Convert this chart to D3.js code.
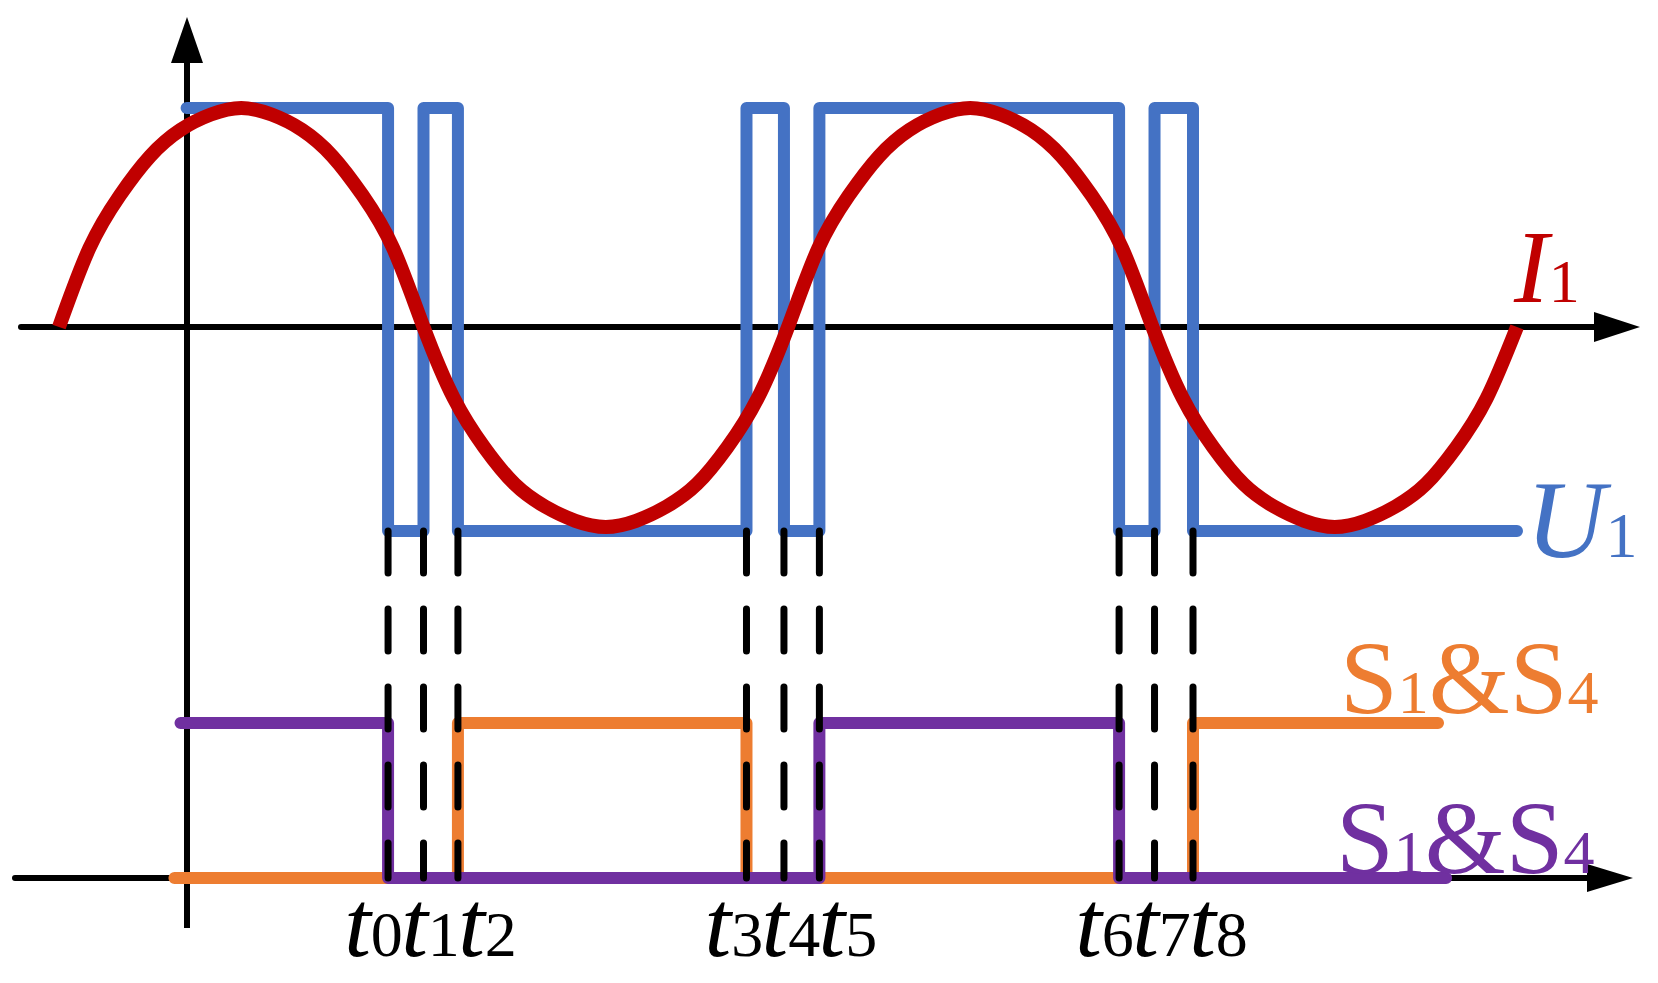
<!DOCTYPE html>
<html>
<head>
<meta charset="utf-8">
<script src="https://cdnjs.cloudflare.com/ajax/libs/d3/7.8.5/d3.min.js"></script>
<style>
  body { margin: 0; background: #fff; }
</style>
</head>
<body>
<div id="wrapper"></div>
<script>
// switching instants t0..t8 (degrees of the current period)
const switchTimes = [162.5, 180, 197, 339.5, 358, 375.5, 523.5, 541, 560];
const tickLabels = ["t0", "t1", "t2", "t3", "t4", "t5", "t6", "t7", "t8"];

// current I1, read every 15 degrees
const currentDeg = [0, 15, 30, 45, 60, 75, 90, 105, 120, 135, 150, 165, 180,
    195, 210, 225, 240, 255, 270, 285, 300, 315, 330, 345, 360,
    375, 390, 405, 420, 435, 450, 465, 480, 495, 510, 525, 540,
    555, 570, 585, 600, 615, 630, 645, 660, 675, 690, 705, 720];
const currentVal = [0, 0.36, 0.6, 0.78, 0.9, 0.97, 1, 0.97, 0.9, 0.78, 0.6, 0.36, 0,
    -0.35, -0.59, -0.77, -0.88, -0.95, -0.98, -0.95, -0.88, -0.77, -0.59, -0.35, 0,
    0.36, 0.6, 0.78, 0.9, 0.97, 1, 0.97, 0.9, 0.78, 0.6, 0.36, 0,
    -0.35, -0.59, -0.77, -0.88, -0.95, -0.98, -0.95, -0.88, -0.77, -0.59, -0.35, 0];

// voltage U1 (square wave)
const voltageStart = 63;
const voltageEnd = 720;
const voltageEdges = [162.5, 180, 197, 339.5, 358, 375.5, 523.5, 541, 560];
const voltageLevels = [1, -1, 1, -1, 1, -1, 1, -1, 1, -1];

// gate signals
const orangeStart = 57, orangeEnd = 681;
const orangeEdges = [197, 339.5, 560];
const orangeLevels = [0, 1, 0, 1];
const purpleStart = 60, purpleEnd = 685;
const purpleEdges = [162.5, 375.5, 523.5];
const purpleLevels = [1, 0, 1, 0];

const labelI = ["I", "1"];
const labelU = ["U", "1"];
const labelS = ["S", "1", "&", "S", "4"];

function buildPlot() {
    const dimension = {
        width: 1658,
        height: 983,
        margin: { left: 59, right: 141 }
    };

    const colors = {
        red: "#C00000",
        blue: "#4472C4",
        orange: "#ED7D31",
        purple: "#7030A0"
    };

    const svg = d3.select("#wrapper").append("svg")
        .attr("width", dimension.width)
        .attr("height", dimension.height);

    const xScale = d3.scaleLinear()
        .domain([0, 720])
        .range([dimension.margin.left, dimension.width - dimension.margin.right]);
    const yWave = d3.scaleLinear()
        .domain([-1, 0, 1])
        .range([531, 327, 108]);
    const ySwitch = d3.scaleLinear()
        .domain([0, 1])
        .range([878, 723]);

    // step points for curveStepAfter
    const steps = (start, end, edges, levels) => {
        const pts = [{ t: start, v: levels[0] }];
        edges.forEach((e, i) => pts.push({ t: e, v: levels[i + 1] }));
        pts.push({ t: end, v: levels[levels.length - 1] });
        return pts;
    };

    // ---- axes ----
    const axisX = 187;
    const axes = svg.append("g").attr("stroke", "black").attr("stroke-width", 6);
    axes.append("line")
        .attr("x1", axisX).attr("x2", axisX)
        .attr("y1", 928).attr("y2", 60);
    axes.append("line")
        .attr("x1", 21).attr("x2", 1598)
        .attr("y1", yWave(0)).attr("y2", yWave(0))
        .attr("stroke-linecap", "round");
    axes.append("line")
        .attr("x1", 15).attr("x2", 1590)
        .attr("y1", ySwitch(0)).attr("y2", ySwitch(0))
        .attr("stroke-linecap", "round");

    const arrow = d3.line();
    svg.append("path")
        .attr("d", arrow([[axisX, 17], [axisX - 16, 63], [axisX + 16, 63]]) + "Z")
        .attr("fill", "black");
    svg.append("path")
        .attr("d", arrow([[1640, yWave(0)], [1594, yWave(0) - 15], [1594, yWave(0) + 15]]) + "Z")
        .attr("fill", "black");
    svg.append("path")
        .attr("d", arrow([[1633, ySwitch(0)], [1587, ySwitch(0) - 14], [1587, ySwitch(0) + 14]]) + "Z")
        .attr("fill", "black");

    // ---- voltage U1 ----
    const stepLine = (yS) => d3.line()
        .x(d => xScale(d.t))
        .y(d => yS(d.v))
        .curve(d3.curveStepAfter);

    svg.append("path")
        .attr("d", stepLine(yWave)(steps(voltageStart, voltageEnd, voltageEdges, voltageLevels)))
        .attr("fill", "none")
        .attr("stroke", colors.blue)
        .attr("stroke-width", 12)
        .attr("stroke-linejoin", "round")
        .attr("stroke-linecap", "round");

    // ---- current I1 ----
    const currentData = currentDeg.map((t, i) => ({ t: t, v: currentVal[i] }));
    const currentLine = d3.line()
        .x(d => xScale(d.t))
        .y(d => yWave(d.v))
        .curve(d3.curveNatural);
    svg.append("path")
        .attr("d", currentLine(currentData))
        .attr("fill", "none")
        .attr("stroke", colors.red)
        .attr("stroke-width", 14);

    // ---- gate signals ----
    svg.append("path")
        .attr("d", stepLine(ySwitch)(steps(orangeStart, orangeEnd, orangeEdges, orangeLevels)))
        .attr("fill", "none")
        .attr("stroke", colors.orange)
        .attr("stroke-width", 12)
        .attr("stroke-linejoin", "round")
        .attr("stroke-linecap", "round");
    svg.append("path")
        .attr("d", stepLine(ySwitch)(steps(purpleStart, purpleEnd, purpleEdges, purpleLevels)))
        .attr("fill", "none")
        .attr("stroke", colors.purple)
        .attr("stroke-width", 12)
        .attr("stroke-linejoin", "round")
        .attr("stroke-linecap", "round");

    // ---- dashed guides ----
    svg.append("g").selectAll("line")
        .data(switchTimes)
        .join("line")
        .attr("x1", d => xScale(d)).attr("x2", d => xScale(d))
        .attr("y1", yWave(-1)).attr("y2", ySwitch(0))
        .attr("stroke", "black")
        .attr("stroke-width", 7)
        .attr("stroke-linecap", "round")
        .attr("stroke-dasharray", "42 36");

    // ---- tick labels t0..t8 ----
    const serif = "'Liberation Serif', 'Times New Roman', serif";
    const tickText = svg.append("g").selectAll("text")
        .data(tickLabels)
        .join("text")
        .attr("x", (d, i) => {
            const mid = xScale(switchTimes[Math.floor(i / 3) * 3 + 1]);
            return mid + 7 + (i % 3 - 1) * 57;
        })
        .attr("y", 956)
        .attr("text-anchor", "middle")
        .attr("font-family", serif)
        .attr("fill", "black");
    tickText.append("tspan")
        .attr("font-style", "italic")
        .attr("font-size", 96)
        .text(d => d[0]);
    tickText.append("tspan")
        .attr("font-size", 64)
        .text(d => d.slice(1));

    // ---- series labels ----
    const label = (parts, x, y, color, italicFirst, big, small) => {
        const t = svg.append("text")
            .attr("x", x).attr("y", y)
            .attr("font-family", serif)
            .attr("fill", color);
        parts.forEach((p, i) => {
            const isSub = /[0-9]/.test(p);
            t.append("tspan")
                .attr("font-size", isSub ? small : big)
                .attr("font-style", (italicFirst && i === 0) ? "italic" : "normal")
                .text(p);
        });
    };
    label(labelI, 1514, 302, colors.red, true, 104, 62);
    label(labelU, 1526, 557, colors.blue, true, 110, 64);
    label(labelS, 1340, 713, colors.orange, false, 104, 62);
    label(labelS, 1336, 873, colors.purple, false, 104, 62);
}

buildPlot();
</script>
</body>
</html>
